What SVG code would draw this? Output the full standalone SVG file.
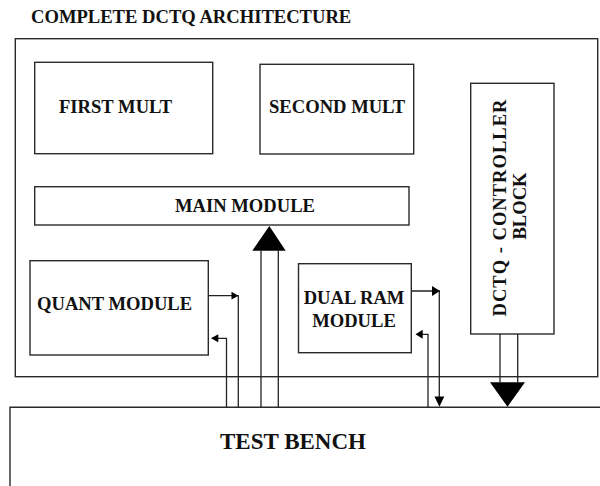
<svg xmlns="http://www.w3.org/2000/svg" width="600" height="486" viewBox="0 0 600 486">
  <style>
    .box { fill: #fff; stroke: #2a2a2a; stroke-width: 1.4; }
    .frame { fill: none; stroke: #2a2a2a; stroke-width: 1.4; }
    .lbl { font-family: "Liberation Serif", "Times New Roman", serif; font-weight: bold; font-size: 18.6px; fill: #111; }
    .big { font-size: 23px; }
    .wire { fill: none; stroke: #222; stroke-width: 1.3; }
    .head { fill: #000; stroke: none; }
  </style>
  <rect width="600" height="486" fill="#fff"/>

  <text class="lbl" x="31" y="23">COMPLETE DCTQ ARCHITECTURE</text>

  <!-- enclosing design frame -->
  <g id="top-level">
    <rect class="frame" x="15.3" y="38.7" width="582.4" height="338"/>
  </g>

  <g id="first-mult">
    <rect class="box" x="34.7" y="62.3" width="178" height="91.4"/>
    <text class="lbl" x="59" y="113">FIRST MULT</text>
  </g>

  <g id="second-mult">
    <rect class="box" x="260" y="64.3" width="153.7" height="89.7"/>
    <text class="lbl" x="269" y="113">SECOND MULT</text>
  </g>

  <g id="controller">
    <rect class="box" x="470.7" y="83.3" width="83.3" height="250.7"/>
    <text class="lbl" transform="translate(506,208) rotate(-90)" text-anchor="middle" textLength="217" lengthAdjust="spacing">DCTQ - CONTROLLER</text>
    <text class="lbl" transform="translate(526,206) rotate(-90)" text-anchor="middle">BLOCK</text>
  </g>

  <g id="main-module">
    <rect class="box" x="34.7" y="186.7" width="374.3" height="38.3"/>
    <text class="lbl" x="175" y="212">MAIN MODULE</text>
  </g>

  <g id="quant-module">
    <rect class="box" x="30" y="260.7" width="178.3" height="94.3"/>
    <text class="lbl" x="37" y="310">QUANT MODULE</text>
  </g>

  <g id="dual-ram">
    <rect class="box" x="298.5" y="263.7" width="112.8" height="89"/>
    <text class="lbl" x="354" y="304" text-anchor="middle">DUAL RAM</text>
    <text class="lbl" x="354" y="327" text-anchor="middle">MODULE</text>
  </g>

  <g id="test-bench">
    <path class="frame" d="M10,490 V407.3 H610"/>
    <text class="lbl big" x="220" y="449">TEST BENCH</text>
  </g>

  <g id="connectors">
    <!-- quant module output to test bench -->
    <path class="wire" d="M208.3,295.7 H238.3 V407.3"/>
    <polygon class="head" points="231.5,291.8 238.3,295.7 231.5,299.6"/>
    <!-- test bench to quant module input -->
    <path class="wire" d="M226.5,407.3 V338.3 H212"/>
    <polygon class="head" points="211,338.3 218.3,334.3 218.3,342.3"/>

    <!-- wide bus from test bench into main module -->
    <path class="wire" d="M261,407.3 V250.7 M278.3,407.3 V250.7"/>
    <polygon class="head" points="252.3,250.7 285.7,250.7 269.3,226"/>

    <!-- dual RAM output to test bench -->
    <path class="wire" d="M411.3,291 H439.3 V400"/>
    <polygon class="head" points="432,286 440,291 432,296"/>
    <polygon class="head" points="434.5,396.5 444.3,396.5 439.4,406.7"/>
    <!-- test bench to dual RAM input -->
    <path class="wire" d="M428,407.3 V334.3 H417"/>
    <polygon class="head" points="415.5,334.3 422.7,329.8 422.7,338.8"/>

    <!-- wide bus from controller down to test bench -->
    <path class="wire" d="M500,334 V382.3 M517.7,334 V382.3"/>
    <polygon class="head" points="490,382.3 525,382.3 507.5,406.7"/>
  </g>
</svg>
